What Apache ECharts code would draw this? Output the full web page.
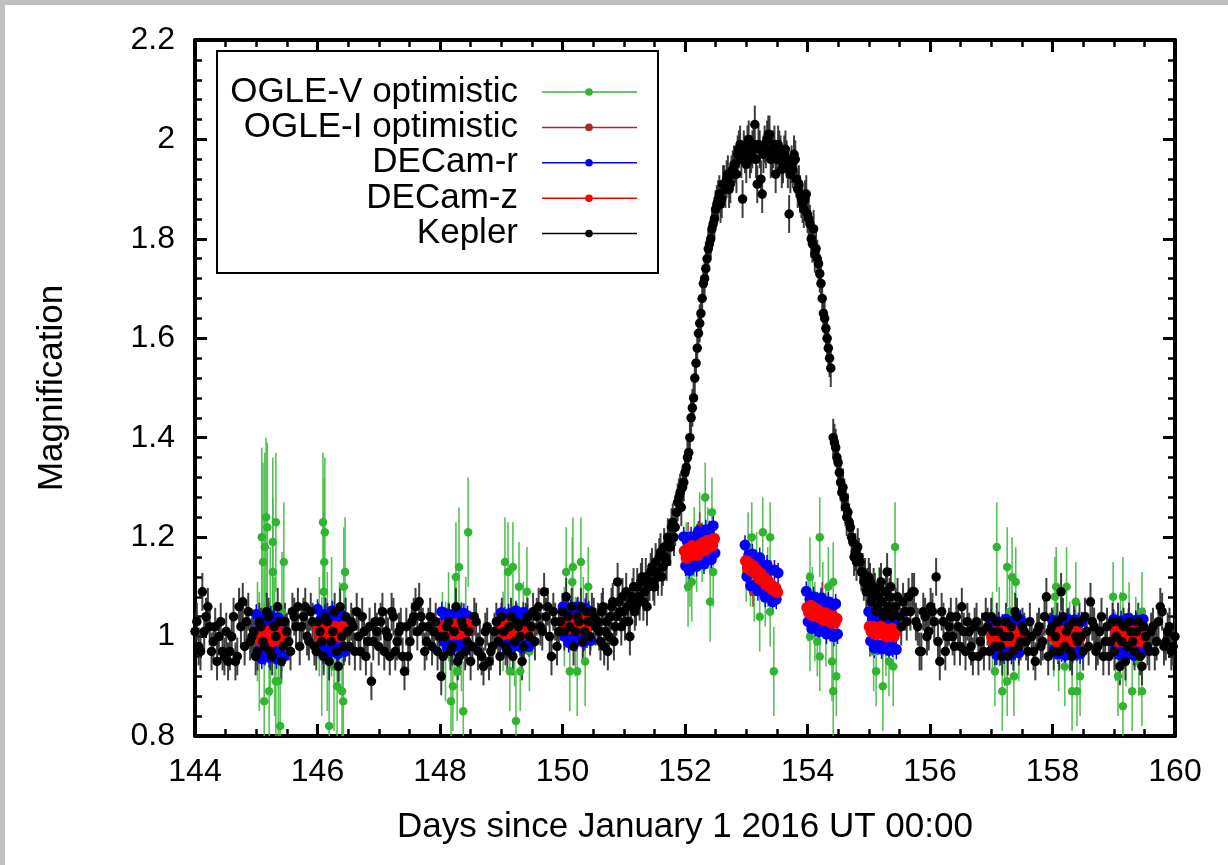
<!DOCTYPE html>
<html><head><meta charset="utf-8">
<script src="https://cdn.jsdelivr.net/npm/echarts@6/dist/echarts.min.js"></script>
<style>html,body{margin:0;padding:0;background:#fff}#chart{width:1228px;height:865px}</style>
</head><body><div id="chart"></div>
<script>
// ---------------- axis ranges ----------------
const X_MIN = 144, X_MAX = 160, X_STEP = 2;
const Y_MIN = 0.8, Y_MAX = 2.2, Y_STEP = 0.2;
const X_TITLE = 'Days since January 1 2016 UT 00:00';
const Y_TITLE = 'Magnification';
const SERIES_NAMES = ['OGLE-V optimistic', 'OGLE-I optimistic', 'DECam-r', 'DECam-z', 'Kepler'];

// ---------------- data ----------------
// OGLE-V: [day, magnification, error]
const OGLE_V = [
[145.02,1.01,0.10],[145.05,0.97,0.12],[145.09,1.20,0.18],[145.11,1.15,0.20],[145.13,0.87,0.20],[145.14,1.18,0.19],[145.16,1.24,0.16],[145.18,1.22,0.17],[145.21,0.89,0.18],[145.23,1.03,0.15],[145.27,1.19,0.17],[145.27,1.13,0.15],[145.30,0.98,0.14],[145.32,1.23,0.14],[145.32,0.91,0.16],[145.36,0.91,0.15],[145.39,0.82,0.14],[145.42,1.05,0.12],[145.45,1.15,0.12],
[146.03,1.02,0.10],[146.07,0.96,0.12],[146.09,1.23,0.14],[146.10,1.09,0.16],[146.11,1.15,0.17],[146.12,1.21,0.15],[146.16,0.99,0.14],[146.19,0.82,0.13],[146.23,1.04,0.12],[146.27,0.94,0.13],[146.32,0.90,0.12],[146.36,1.01,0.10],[146.40,0.89,0.12],[146.42,0.87,0.11],[146.43,1.10,0.12],[146.45,1.13,0.11],
[148.04,1.00,0.09],[148.09,0.97,0.10],[148.14,1.04,0.09],[148.18,0.87,0.10],[148.21,0.90,0.09],[148.24,1.02,0.10],[148.26,1.12,0.11],[148.28,0.93,0.10],[148.31,1.14,0.12],[148.35,0.98,0.09],[148.38,0.85,0.10],[148.42,1.03,0.09],[148.46,1.21,0.11],
[149.03,1.01,0.08],[149.06,1.15,0.09],[149.11,1.13,0.10],[149.14,0.93,0.08],[149.19,1.14,0.09],[149.22,0.98,0.08],[149.24,0.83,0.10],[149.29,1.10,0.09],[149.31,0.93,0.08],[149.36,1.03,0.08],[149.42,1.09,0.09],[149.46,0.97,0.08],
[150.03,1.02,0.08],[150.06,1.13,0.09],[150.12,0.93,0.08],[150.16,1.11,0.09],[150.17,1.14,0.10],[150.21,1.00,0.08],[150.24,0.93,0.09],[150.30,1.15,0.09],[150.34,1.04,0.08],[150.37,0.95,0.09],[150.42,1.10,0.08],
[152.02,1.16,0.07],[152.05,1.10,0.08],[152.08,1.13,0.07],[152.11,1.11,0.08],[152.15,1.19,0.07],[152.19,1.15,0.06],[152.24,1.22,0.07],[152.28,1.17,0.06],[152.33,1.28,0.07],[152.37,1.20,0.06],[152.41,1.07,0.08],[152.44,1.25,0.07],[152.46,1.13,0.07],
[153.00,1.13,0.06],[153.03,1.18,0.07],[153.07,1.12,0.06],[153.09,1.20,0.07],[153.13,1.09,0.06],[153.17,1.15,0.06],[153.22,1.04,0.07],[153.27,1.21,0.07],[153.31,1.08,0.06],[153.35,1.12,0.06],[153.39,1.20,0.07],[153.39,1.05,0.07],[153.45,0.93,0.09],
[154.01,1.06,0.07],[154.04,1.12,0.08],[154.04,1.00,0.07],[154.08,1.07,0.07],[154.12,1.03,0.08],[154.16,0.99,0.07],[154.20,1.20,0.08],[154.20,0.96,0.07],[154.25,1.08,0.07],[154.30,1.02,0.08],[154.34,1.10,0.08],[154.40,0.95,0.08],[154.42,0.89,0.09],[154.42,1.11,0.08],[154.47,0.92,0.08],
[155.03,1.03,0.07],[155.08,0.97,0.08],[155.12,0.93,0.07],[155.17,1.06,0.08],[155.23,0.90,0.09],[155.28,1.00,0.08],[155.33,0.95,0.07],[155.40,0.94,0.08],[155.43,1.18,0.09],
[157.02,1.01,0.08],[157.06,0.93,0.07],[157.09,1.18,0.09],[157.13,1.02,0.08],[157.18,0.89,0.08],[157.22,0.97,0.07],[157.26,1.14,0.08],[157.26,0.91,0.07],[157.30,1.05,0.07],[157.34,1.12,0.08],[157.37,0.92,0.08],[157.40,1.11,0.07],[157.45,0.98,0.07],
[158.02,0.99,0.07],[158.04,1.08,0.08],[158.06,1.10,0.08],[158.10,0.96,0.07],[158.15,1.03,0.07],[158.20,0.94,0.08],[158.23,1.10,0.08],[158.28,1.00,0.07],[158.32,0.89,0.08],[158.38,1.07,0.08],[158.40,0.89,0.07],[158.45,0.92,0.08],
[158.99,1.08,0.07],[159.03,0.98,0.07],[159.07,0.92,0.08],[159.11,1.02,0.07],[159.15,1.08,0.08],[159.15,0.86,0.08],[159.20,0.97,0.07],[159.25,1.04,0.07],[159.30,0.89,0.08],[159.36,1.01,0.07],[159.41,0.95,0.07],[159.46,1.05,0.08],[159.46,0.89,0.07]
];

// OGLE-I: [day, magnification]
const OGLE_I = [
[145.10,1.00],[145.30,1.01],[146.10,1.01],[146.30,1.00],[148.15,1.01],[148.35,1.02],[149.15,1.02],[149.35,1.01],[150.15,1.03],[150.35,1.02],
[152.05,1.20],[152.24,1.22],[152.40,1.19],[153.11,1.09],[153.25,1.12],[154.10,1.05],[154.24,1.08],[155.02,0.99],[155.25,1.01],
[157.15,1.00],[157.35,1.00],[158.15,1.00],[158.35,1.01],[159.15,1.00],[159.35,1.00]
];
const OGLE_I_ERR = 0.03;

// DECam-r: [day, magnification]
const DECAM_R = [
[145.00,1.045],[145.03,0.97],[145.06,1.025],[145.09,0.955],[145.12,1.035],[145.15,0.965],[145.18,1.03],[145.21,0.958],[145.24,1.042],[145.27,0.975],[145.30,1.028],[145.33,0.955],[145.36,1.038],[145.39,0.968],[145.42,1.03],[145.45,0.96],
[146.00,1.055],[146.03,0.98],[146.06,1.035],[146.09,0.965],[146.12,1.045],[146.15,0.975],[146.18,1.04],[146.21,0.968],[146.24,1.052],[146.27,0.985],[146.30,1.038],[146.33,0.965],[146.36,1.048],[146.39,0.978],[146.42,1.04],[146.45,0.97],
[148.03,1.05],[148.06,0.99],[148.09,1.037],[148.12,0.978],[148.15,1.045],[148.18,0.985],[148.21,1.04],[148.24,0.98],[148.27,1.05],[148.30,0.993],[148.33,1.039],[148.36,0.979],[148.39,1.047],[148.42,0.987],[148.45,1.042],[148.48,0.982],
[149.00,1.048],[149.03,0.989],[149.06,1.04],[149.09,0.976],[149.12,1.046],[149.15,0.987],[149.18,1.038],[149.21,0.981],[149.24,1.052],[149.27,0.992],[149.30,1.036],[149.33,0.978],[149.36,1.049],[149.39,0.985],[149.42,1.043],[149.45,0.98],
[150.01,1.06],[150.04,1.00],[150.07,1.047],[150.10,0.988],[150.13,1.055],[150.16,0.995],[150.19,1.05],[150.22,0.99],[150.25,1.06],[150.28,1.003],[150.31,1.049],[150.34,0.989],[150.37,1.057],[150.40,0.997],[150.43,1.052],[150.46,0.992],
[151.98,1.201],[152.01,1.142],[152.04,1.19],[152.07,1.133],[152.10,1.201],[152.13,1.143],[152.16,1.199],[152.19,1.141],[152.22,1.212],[152.25,1.157],[152.28,1.204],[152.31,1.146],[152.34,1.215],[152.37,1.157],[152.40,1.213],[152.43,1.155],[152.46,1.223],[152.49,1.168],
[152.98,1.184],[153.01,1.121],[153.04,1.164],[153.07,1.102],[153.10,1.166],[153.13,1.103],[153.16,1.155],[153.19,1.092],[153.22,1.159],[153.25,1.099],[153.28,1.142],[153.31,1.079],[153.34,1.144],[153.37,1.081],[153.40,1.133],[153.43,1.07],[153.46,1.134],[153.49,1.075],[153.52,1.128],
[153.98,1.091],[154.01,1.03],[154.04,1.075],[154.07,1.016],[154.10,1.08],[154.13,1.02],[154.16,1.07],[154.19,1.01],[154.22,1.078],[154.25,1.02],[154.28,1.063],[154.31,1.005],[154.34,1.07],[154.37,1.01],[154.40,1.06],[154.43,1.00],[154.46,1.066],[154.49,1.005],
[155.00,1.05],[155.03,0.991],[155.06,1.036],[155.09,0.977],[155.12,1.043],[155.15,0.983],[155.18,1.035],[155.21,0.975],[155.24,1.044],[155.27,0.987],[155.30,1.032],[155.33,0.972],[155.36,1.038],[155.39,0.979],[155.42,1.033],[155.45,0.974],
[157.00,1.036],[157.03,0.976],[157.06,1.022],[157.09,0.963],[157.12,1.03],[157.15,0.97],[157.18,1.025],[157.21,0.965],[157.24,1.035],[157.27,0.978],[157.30,1.024],[157.33,0.964],[157.36,1.032],[157.39,0.972],[157.42,1.027],[157.45,0.967],[157.48,1.034],
[158.00,1.033],[158.03,0.974],[158.06,1.025],[158.09,0.965],[158.12,1.031],[158.15,0.969],[158.18,1.026],[158.21,0.962],[158.24,1.036],[158.27,0.977],[158.30,1.022],[158.33,0.966],[158.36,1.034],[158.39,0.971],[158.42,1.028],[158.45,0.965],[158.48,1.03],
[159.00,1.035],[159.03,0.975],[159.06,1.023],[159.09,0.964],[159.12,1.032],[159.15,0.968],[159.18,1.027],[159.21,0.963],[159.24,1.037],[159.27,0.976],[159.30,1.025],[159.33,0.962],[159.36,1.033],[159.39,0.973],[159.42,1.026],[159.45,0.966],[159.48,1.035]
];
const DECAM_R_ERR = 0.02;

// DECam-z: [day, magnification]
const DECAM_Z = [
[145.015,1.005],[145.045,0.995],[145.075,1.01],[145.105,0.99],[145.135,1.00],[145.165,1.01],[145.195,0.995],[145.225,1.005],[145.255,0.99],[145.285,1.01],[145.315,1.00],[145.345,0.995],[145.375,1.01],[145.405,0.99],[145.435,1.005],
[146.015,1.015],[146.045,1.00],[146.075,1.02],[146.105,1.005],[146.135,1.015],[146.165,1.00],[146.195,1.02],[146.225,1.01],[146.255,1.00],[146.285,1.02],[146.315,1.005],[146.345,1.015],[146.375,1.00],[146.405,1.02],[146.435,1.01],
[148.045,1.02],[148.075,1.005],[148.105,1.025],[148.135,1.01],[148.165,1.02],[148.195,1.005],[148.225,1.025],[148.255,1.015],[148.285,1.005],[148.315,1.025],[148.345,1.01],[148.375,1.02],[148.405,1.005],[148.435,1.025],[148.465,1.015],
[149.015,1.02],[149.045,1.005],[149.075,1.025],[149.105,1.01],[149.135,1.02],[149.165,1.005],[149.195,1.025],[149.225,1.015],[149.255,1.005],[149.285,1.02],[149.315,1.01],[149.345,1.025],[149.375,1.005],[149.405,1.02],[149.435,1.01],
[150.025,1.03],[150.055,1.015],[150.085,1.035],[150.115,1.02],[150.145,1.03],[150.175,1.015],[150.205,1.035],[150.235,1.025],[150.265,1.015],[150.295,1.035],[150.325,1.02],[150.355,1.03],[150.385,1.015],[150.415,1.035],[150.445,1.025],
[151.995,1.172],[152.025,1.158],[152.055,1.177],[152.085,1.163],[152.115,1.182],[152.145,1.168],[152.175,1.178],[152.205,1.164],[152.235,1.183],[152.265,1.172],[152.295,1.188],[152.325,1.174],[152.355,1.192],[152.385,1.179],[152.415,1.193],[152.445,1.183],[152.475,1.197],
[152.995,1.152],[153.025,1.138],[153.055,1.147],[153.085,1.133],[153.115,1.142],[153.145,1.128],[153.175,1.133],[153.205,1.118],[153.235,1.127],[153.265,1.113],[153.295,1.118],[153.325,1.104],[153.355,1.112],[153.385,1.099],[153.415,1.103],[153.445,1.093],[153.475,1.098],[153.505,1.089],
[153.995,1.058],[154.025,1.048],[154.055,1.062],[154.085,1.043],[154.115,1.057],[154.145,1.043],[154.175,1.052],[154.205,1.038],[154.235,1.047],[154.265,1.033],[154.295,1.047],[154.325,1.033],[154.355,1.042],[154.385,1.028],[154.415,1.041],[154.445,1.028],[154.475,1.036],
[155.015,1.02],[155.045,1.01],[155.075,1.02],[155.105,1.005],[155.135,1.015],[155.165,1.01],[155.195,1.02],[155.225,1.005],[155.255,1.015],[155.285,1.00],[155.315,1.01],[155.345,1.005],[155.375,1.015],[155.405,1.00],[155.435,1.01],
[157.015,1.00],[157.045,0.99],[157.075,1.01],[157.105,0.995],[157.135,1.005],[157.165,0.99],[157.195,1.01],[157.225,1.00],[157.255,0.99],[157.285,1.01],[157.315,0.995],[157.345,1.005],[157.375,0.99],[157.405,1.01],[157.435,1.00],[157.465,0.995],
[158.015,1.00],[158.045,1.01],[158.075,0.99],[158.105,1.005],[158.135,0.995],[158.165,1.01],[158.195,0.99],[158.225,1.00],[158.255,1.01],[158.285,0.995],[158.315,1.005],[158.345,0.99],[158.375,1.01],[158.405,1.00],[158.435,0.995],[158.465,1.005],
[159.015,0.995],[159.045,1.01],[159.075,0.99],[159.105,1.005],[159.135,1.00],[159.165,0.99],[159.195,1.01],[159.225,0.995],[159.255,1.005],[159.285,0.99],[159.315,1.01],[159.345,1.00],[159.375,0.995],[159.405,1.01],[159.435,0.99],[159.465,1.005]
];
const DECAM_Z_ERR = 0.012;

// Kepler: [day, magnification]
const KEPLER = [
[144.00,1.01],[144.06,0.98],[144.12,1.09],[144.18,1.04],[144.24,1.02],[144.30,0.99],[144.36,0.95],[144.42,1.03],[144.48,0.96],[144.54,0.95],
[144.60,1.00],[144.66,0.95],[144.72,1.06],[144.78,1.07],[144.84,1.03],[144.90,0.99],[144.96,1.01],[145.02,0.97],[145.08,1.02],[145.14,0.98],
[145.20,1.04],[145.26,0.96],[145.32,1.00],[145.38,1.03],[145.44,0.98],[145.50,1.01],[145.56,0.97],[145.62,1.04],[145.68,1.06],[145.74,1.02],
[145.80,1.06],[145.86,0.99],[145.92,1.03],[145.98,0.97],[146.04,1.01],[146.10,0.96],[146.16,1.03],[146.22,0.99],[146.28,1.05],[146.34,0.94],
[146.40,1.00],[146.46,1.04],[146.52,0.98],[146.58,1.02],[146.64,1.05],[146.70,0.97],[146.76,1.01],[146.82,0.99],[146.88,0.91],[146.94,1.03],
[147.00,0.98],[147.06,1.05],[147.12,1.01],[147.18,0.96],[147.24,1.04],[147.30,0.99],[147.36,1.02],[147.42,0.93],[147.48,0.96],[147.54,1.03],
[147.60,1.06],[147.66,1.07],[147.72,1.02],[147.78,0.99],[147.84,1.04],[147.90,1.01],[147.96,0.97],[148.02,0.92],[148.08,1.00],[148.14,1.03],
[148.20,0.98],[148.26,1.06],[148.32,0.96],[148.38,1.02],[148.44,0.99],[148.50,0.95],[148.56,1.04],[148.62,0.97],[148.68,0.96],[148.74,1.01],
[148.80,0.95],[148.86,0.98],[148.92,1.03],[148.98,0.96],[149.04,1.01],[149.10,0.97],[149.16,1.04],[149.22,0.99],[149.28,1.02],[149.34,0.95],
[149.40,1.03],[149.46,1.00],[149.52,1.05],[149.58,1.04],[149.64,1.02],[149.70,1.09],[149.76,1.06],[149.82,0.96],[149.88,1.03],[149.94,1.01],
[150.00,1.05],[150.06,1.08],[150.12,1.02],[150.18,0.98],[150.24,1.04],[150.30,1.06],[150.36,1.01],[150.42,1.03],[150.48,1.05],[150.54,1.02],
[144.03,1.03],[144.09,0.97],[144.15,1.01],[144.21,1.06],[144.27,0.97],[144.33,1.02],[144.39,1.00],[144.45,0.97],[144.51,1.01],[144.57,0.97],
[144.63,1.04],[144.69,0.96],[144.75,1.02],[144.81,0.98],[144.87,1.05],[144.93,1.00],[144.99,0.96],[145.05,1.03],[145.11,0.99],[145.17,1.05],
[145.23,0.97],[145.29,1.02],[145.35,1.06],[145.41,0.95],[145.47,1.03],[145.53,0.99],[145.59,1.05],[145.65,1.02],[145.71,0.98],[145.77,1.04],
[145.83,1.00],[145.89,1.05],[145.95,0.98],[146.01,1.03],[146.07,0.99],[146.13,1.04],[146.19,0.95],[146.25,1.01],[146.31,0.97],[146.37,1.06],
[146.43,0.98],[146.49,1.01],[146.55,1.03],[146.61,0.97],[146.67,1.00],[146.73,1.04],[146.79,0.96],[146.85,1.02],[146.91,0.99],[146.97,1.01],
[147.03,1.03],[147.09,0.97],[147.15,1.00],[147.21,1.05],[147.27,0.97],[147.33,1.01],[147.39,0.96],[147.45,1.02],[147.51,0.99],[147.57,1.04],
[147.63,1.01],[147.69,1.04],[147.75,0.97],[147.81,1.02],[147.87,0.98],[147.93,1.03],[147.99,1.00],[148.05,0.96],[148.11,1.02],[148.17,0.97],
[148.23,1.01],[148.29,0.95],[148.35,1.03],[148.41,0.97],[148.47,1.01],[148.53,0.98],[148.59,1.03],[148.65,0.99],[148.71,0.94],[148.77,1.02],
[148.83,0.97],[148.89,1.01],[148.95,0.99],[149.01,1.04],[149.07,0.98],[149.13,1.02],[149.19,0.96],[149.25,1.03],[149.31,1.00],[149.37,0.98],
[149.43,1.04],[149.49,1.02],[149.55,0.99],[149.61,1.06],[149.67,1.01],[149.73,1.04],[149.79,1.00],[149.85,1.05],[149.91,0.98],[149.97,1.03],
[150.03,1.01],[150.09,1.04],[150.15,1.06],[150.21,1.01],[150.27,1.03],[150.33,0.99],[150.39,1.05],[150.45,1.00],[150.51,1.04],
[150.58,1.03],[150.62,0.99],[150.66,1.06],[150.70,1.01],[150.74,0.97],[150.78,1.04],[150.82,1.07],[150.86,1.02],[150.90,1.11],[150.94,1.05],
[150.98,1.08],[151.02,1.03],[151.06,1.06],[151.10,1.00],[151.14,1.08],[151.18,1.05],[151.22,1.10],[151.26,1.07],[151.30,1.12],[151.34,1.09],
[151.38,1.06],[151.42,1.11],[151.46,1.14],[151.50,1.10],[151.54,1.13],[151.58,1.16],[151.62,1.12],[151.66,1.18],[151.70,1.15],[151.74,1.19],
[151.78,1.22],[151.82,1.20],[151.86,1.25],[151.90,1.28],[151.94,1.26],[151.98,1.31],[152.02,1.34],[152.06,1.37],[152.10,1.44],[152.14,1.48],
[150.60,1.01],[150.64,1.05],[150.68,0.98],[150.72,1.03],[150.76,1.00],[150.80,1.06],[150.84,0.99],[150.88,1.04],[150.92,1.07],[150.96,1.02],
[151.00,1.05],[151.04,1.09],[151.08,1.03],[151.12,1.07],[151.16,1.10],[151.20,1.06],[151.24,1.08],[151.28,1.11],[151.32,1.07],[151.36,1.12],
[151.40,1.10],[151.44,1.13],[151.48,1.11],[151.52,1.15],[151.56,1.12],[151.60,1.17],[151.64,1.14],[151.68,1.16],[151.72,1.20],[151.76,1.18],
[151.80,1.23],[151.84,1.22],[151.88,1.27],[151.92,1.29],[151.96,1.30],[152.00,1.33],[152.04,1.36],[152.08,1.40],[152.12,1.46],[152.16,1.52],
[152.18,1.55],[152.22,1.61],[152.26,1.65],[152.30,1.71],[152.34,1.74],[152.38,1.78],[152.42,1.80],[152.46,1.83],[152.50,1.86],[152.54,1.88],
[152.58,1.87],[152.62,1.91],[152.66,1.90],[152.70,1.93],[152.74,1.91],[152.78,1.94],[152.82,1.95],[152.86,1.97],[152.90,1.99],[152.94,1.88],
[152.98,1.97],[153.02,1.99],[153.06,1.96],[153.10,1.98],[153.14,2.03],[153.18,1.91],[153.22,1.98],[153.26,1.89],[153.30,1.99],[153.34,2.00],
[153.38,2.01],[153.42,1.97],[153.46,1.99],[153.50,1.96],[153.54,1.98],[153.58,1.94],[153.62,1.97],[153.66,1.96],[153.70,1.85],[153.74,1.95],
[153.78,1.97],[153.82,1.92],[153.86,1.91],[153.90,1.88],[153.94,1.86],[153.98,1.89],[154.02,1.84],[154.06,1.80],[154.10,1.82],[154.14,1.78],
[154.18,1.75],[154.22,1.71],[154.26,1.65],[154.30,1.62],[154.34,1.58],[154.38,1.54],
[152.20,1.58],[152.24,1.63],[152.28,1.68],[152.32,1.72],[152.36,1.76],[152.40,1.79],[152.44,1.82],[152.48,1.84],[152.52,1.87],[152.56,1.89],
[152.60,1.88],[152.64,1.91],[152.68,1.92],[152.72,1.90],[152.76,1.93],[152.80,1.95],[152.84,1.93],[152.88,1.98],[152.92,1.96],[152.96,1.98],
[153.00,1.95],[153.04,2.00],[153.08,1.97],[153.12,1.99],[153.16,1.96],[153.20,1.99],[153.24,1.92],[153.28,1.97],[153.32,1.98],[153.36,2.01],
[153.40,1.96],[153.44,1.98],[153.48,1.93],[153.52,1.99],[153.56,1.97],[153.60,1.95],[153.64,1.98],[153.68,1.94],[153.72,1.93],[153.76,1.94],
[153.80,1.96],[153.84,1.90],[153.88,1.89],[153.92,1.87],[153.96,1.88],[154.00,1.85],[154.04,1.83],[154.08,1.79],[154.12,1.77],[154.16,1.76],
[154.20,1.73],[154.24,1.68],[154.28,1.64],[154.32,1.60],[154.36,1.56],
[154.42,1.40],[154.46,1.38],[154.50,1.35],[154.54,1.31],[154.58,1.30],[154.62,1.26],[154.66,1.25],[154.70,1.22],[154.74,1.19],[154.78,1.17],
[154.82,1.18],[154.86,1.15],[154.90,1.13],[154.94,1.12],[154.98,1.10],[155.02,1.11],[155.06,1.08],[155.10,1.09],[155.14,1.06],[155.18,1.10],
[155.22,1.07],[155.26,1.05],[155.30,1.13],[155.34,1.08],[155.38,1.04],
[154.44,1.39],[154.48,1.36],[154.52,1.33],[154.56,1.29],[154.60,1.28],[154.64,1.24],[154.68,1.23],[154.72,1.20],[154.76,1.16],[154.80,1.15],
[154.84,1.16],[154.88,1.13],[154.92,1.11],[154.96,1.09],[155.00,1.12],[155.04,1.07],[155.08,1.10],[155.12,1.05],[155.16,1.08],[155.20,1.11],
[155.24,1.04],[155.28,1.09],[155.32,1.06],[155.36,1.10],[155.40,1.05],
[155.44,1.06],[155.50,1.04],[155.56,1.07],[155.62,1.03],[155.68,1.05],[155.74,1.09],[155.80,1.02],[155.86,0.97],[155.92,1.04],[155.98,1.01],
[156.04,1.05],[156.10,1.12],[156.16,0.95],[156.22,1.03],[156.28,1.00],[156.34,1.04],[156.40,0.98],[156.46,1.02],[156.52,1.06],[156.58,0.97],
[156.64,1.01],[156.70,0.96],[156.76,1.03],[156.82,0.99],[156.88,0.97],[156.94,1.02],[157.00,1.04],[157.06,0.98],[157.12,1.01],[157.18,0.96],
[157.24,1.03],[157.30,1.00],[157.36,0.97],[157.42,1.04],[157.48,0.99],[157.54,1.01],[157.60,0.97],[157.66,1.00],[157.72,0.95],[157.78,1.02],
[157.84,0.99],[157.90,1.08],[157.96,1.01],[158.02,0.97],[158.08,1.03],[158.14,1.09],[158.20,0.98],[158.26,1.02],[158.32,0.96],[158.38,1.00],
[158.44,1.03],[158.50,0.97],[158.56,1.01],[158.62,1.07],[158.68,1.02],[158.74,0.98],[158.80,1.04],[158.86,0.99],[158.92,0.96],[158.98,1.03],
[159.04,1.00],[159.10,0.94],[159.16,1.02],[159.22,0.98],[159.28,1.01],[159.34,0.97],[159.40,1.03],[159.46,0.94],[159.52,1.00],[159.58,0.97],
[159.64,1.02],[159.70,0.99],[159.76,1.06],[159.82,0.98],[159.88,1.01],[159.94,0.97],[160.00,1.00],
[155.47,1.08],[155.53,1.02],[155.59,1.05],[155.65,1.08],[155.71,1.09],[155.77,1.03],[155.83,0.97],[155.89,1.05],[155.95,1.00],[156.01,1.06],
[156.07,1.03],[156.13,0.99],[156.19,1.05],[156.25,0.97],[156.31,1.02],[156.37,1.00],[156.43,1.04],[156.49,0.98],[156.55,1.01],[156.61,1.03],
[156.67,0.98],[156.73,1.02],[156.79,0.96],[156.85,1.01],[156.91,1.04],[156.97,0.97],[157.03,1.01],[157.09,1.03],[157.15,0.98],[157.21,1.00],
[157.27,0.96],[157.33,1.02],[157.39,1.05],[157.45,0.98],[157.51,1.02],[157.57,0.99],[157.63,1.03],[157.69,0.97],[157.75,1.01],[157.81,0.98],
[157.87,1.04],[157.93,0.96],[157.99,1.02],[158.05,1.00],[158.11,0.97],[158.17,1.04],[158.23,1.01],[158.29,0.97],[158.35,1.03],[158.41,0.99],
[158.47,1.00],[158.53,1.04],[158.59,0.98],[158.65,1.03],[158.71,0.97],[158.77,1.01],[158.83,0.96],[158.89,1.02],[158.95,0.99],[159.01,0.97],
[159.07,1.03],[159.13,0.99],[159.19,0.95],[159.25,1.03],[159.31,0.99],[159.37,1.01],[159.43,0.96],[159.49,1.02],[159.55,0.98],[159.61,1.01],
[159.67,0.97],[159.73,1.03],[159.79,1.05],[159.85,0.99],[159.91,1.02],[159.97,0.98]
];
const KEPLER_ERR = 0.038;

// ---------------- styles ----------------
const COLORS = ['#31b431', '#a52a2a', '#0000ff', '#ff0000', '#000000'];
const FONT = '"Liberation Sans", Arial, Helvetica, sans-serif';

function withErr(arr, err) { return arr.map(function (p) { return [p[0], p[1], p.length > 2 ? p[2] : err]; }); }

function errSeries(data, color, width, opacity) {
  return {
    type: 'custom', data: data, clip: true, silent: true, animation: false,
    encode: { x: 0, y: 1 },
    renderItem: function (params, api) {
      var t = api.value(0), y = api.value(1), e = api.value(2);
      var p1 = api.coord([t, y - e]);
      var p2 = api.coord([t, y + e]);
      return { type: 'line', shape: { x1: p1[0], y1: p1[1], x2: p2[0], y2: p2[1] },
               style: { stroke: color, lineWidth: width, opacity: opacity } };
    }
  };
}
function dotSeries(name, data, color, size) {
  return { type: 'scatter', name: name, data: data.map(function (p) { return [p[0], p[1]]; }),
           symbol: 'circle', symbolSize: size, itemStyle: { color: color, opacity: 1 },
           silent: true, animation: false, large: false, clip: false };
}

const chart = echarts.init(document.getElementById('chart'), null, { renderer: 'canvas' });

const axisCommon = {
  type: 'value',
  axisLine: { show: true, onZero: false, lineStyle: { color: '#000', width: 4 } },
  axisTick: { show: true, inside: true, length: 12, lineStyle: { color: '#000', width: 3 } },
  minorTick: { show: true, length: 7, lineStyle: { color: '#000', width: 2.5 } },
  splitLine: { show: false },
  minorSplitLine: { show: false }
};

// legend drawn as graphic
const LEG_X_TEXT = 518, LEG_Y0 = 92, LEG_DY = 35.4;
const legendEls = [{
  type: 'rect', shape: { x: 217, y: 51, width: 441, height: 222 },
  style: { fill: '#fff', stroke: '#000', lineWidth: 2 }, z: 100
}];
SERIES_NAMES.forEach(function (n, i) {
  var y = LEG_Y0 + LEG_DY * i;
  legendEls.push({ type: 'text', x: LEG_X_TEXT, y: y, z: 101,
    style: { text: n, fill: '#000', font: '35px ' + FONT, textAlign: 'right', textVerticalAlign: 'middle' } });
  legendEls.push({ type: 'line', z: 101, shape: { x1: 542, y1: y, x2: 637, y2: y },
    style: { stroke: COLORS[i], lineWidth: 1.5 } });
  legendEls.push({ type: 'circle', z: 102, shape: { cx: 589, cy: y, r: 3.8 }, style: { fill: COLORS[i] } });
});
// gray frame (top and left)
legendEls.push({ type: 'rect', shape: { x: 0, y: 0, width: 1228, height: 5 }, style: { fill: '#c0c0c0' }, z: 200 });
legendEls.push({ type: 'rect', shape: { x: 0, y: 0, width: 5, height: 865 }, style: { fill: '#c0c0c0' }, z: 200 });

const option = {
  animation: false,
  backgroundColor: '#fff',
  textStyle: { fontFamily: FONT },
  grid: { left: 195, right: 53, top: 40, bottom: 129, containLabel: false },
  xAxis: [
    Object.assign({}, axisCommon, {
      position: 'bottom', min: X_MIN, max: X_MAX, interval: X_STEP,
      minorTick: Object.assign({}, axisCommon.minorTick, { splitNumber: 4 }),
      axisLabel: { show: true, color: '#000', fontSize: 32, fontFamily: FONT, margin: 20 },
      name: X_TITLE, nameLocation: 'middle', nameGap: 74,
      nameTextStyle: { color: '#000', fontSize: 35, fontFamily: FONT }
    }),
    Object.assign({}, axisCommon, {
      position: 'top', min: X_MIN, max: X_MAX, interval: X_STEP,
      minorTick: Object.assign({}, axisCommon.minorTick, { splitNumber: 4 }),
      axisLabel: { show: false }
    })
  ],
  yAxis: [
    Object.assign({}, axisCommon, {
      position: 'left', min: Y_MIN, max: Y_MAX, interval: Y_STEP,
      minorTick: Object.assign({}, axisCommon.minorTick, { splitNumber: 5 }),
      axisLabel: { show: true, color: '#000', fontSize: 32, fontFamily: FONT, margin: 20 },
      name: Y_TITLE, nameLocation: 'middle', nameGap: 125, nameRotate: 90,
      nameTextStyle: { color: '#000', fontSize: 35, fontFamily: FONT }
    }),
    Object.assign({}, axisCommon, {
      position: 'right', min: Y_MIN, max: Y_MAX, interval: Y_STEP,
      minorTick: Object.assign({}, axisCommon.minorTick, { splitNumber: 5 }),
      axisLabel: { show: false }
    })
  ],
  series: [
    errSeries(withErr(OGLE_V), '#44bc44', 1.6, 0.9),
    dotSeries(SERIES_NAMES[0], OGLE_V, COLORS[0], 8.5),
    errSeries(withErr(OGLE_I, OGLE_I_ERR), COLORS[1], 1.5, 1),
    dotSeries(SERIES_NAMES[1], OGLE_I, COLORS[1], 8.5),
    errSeries(withErr(DECAM_R, DECAM_R_ERR), COLORS[2], 1.5, 1),
    dotSeries(SERIES_NAMES[2], DECAM_R, COLORS[2], 11),
    errSeries(withErr(DECAM_Z, DECAM_Z_ERR), COLORS[3], 1.5, 1),
    dotSeries(SERIES_NAMES[3], DECAM_Z, COLORS[3], 12),
    errSeries(withErr(KEPLER, KEPLER_ERR), '#2a2a2a', 2, 0.9),
    dotSeries(SERIES_NAMES[4], KEPLER, COLORS[4], 9.5)
  ],
  graphic: legendEls
};
chart.setOption(option);
</script>
</body></html>
